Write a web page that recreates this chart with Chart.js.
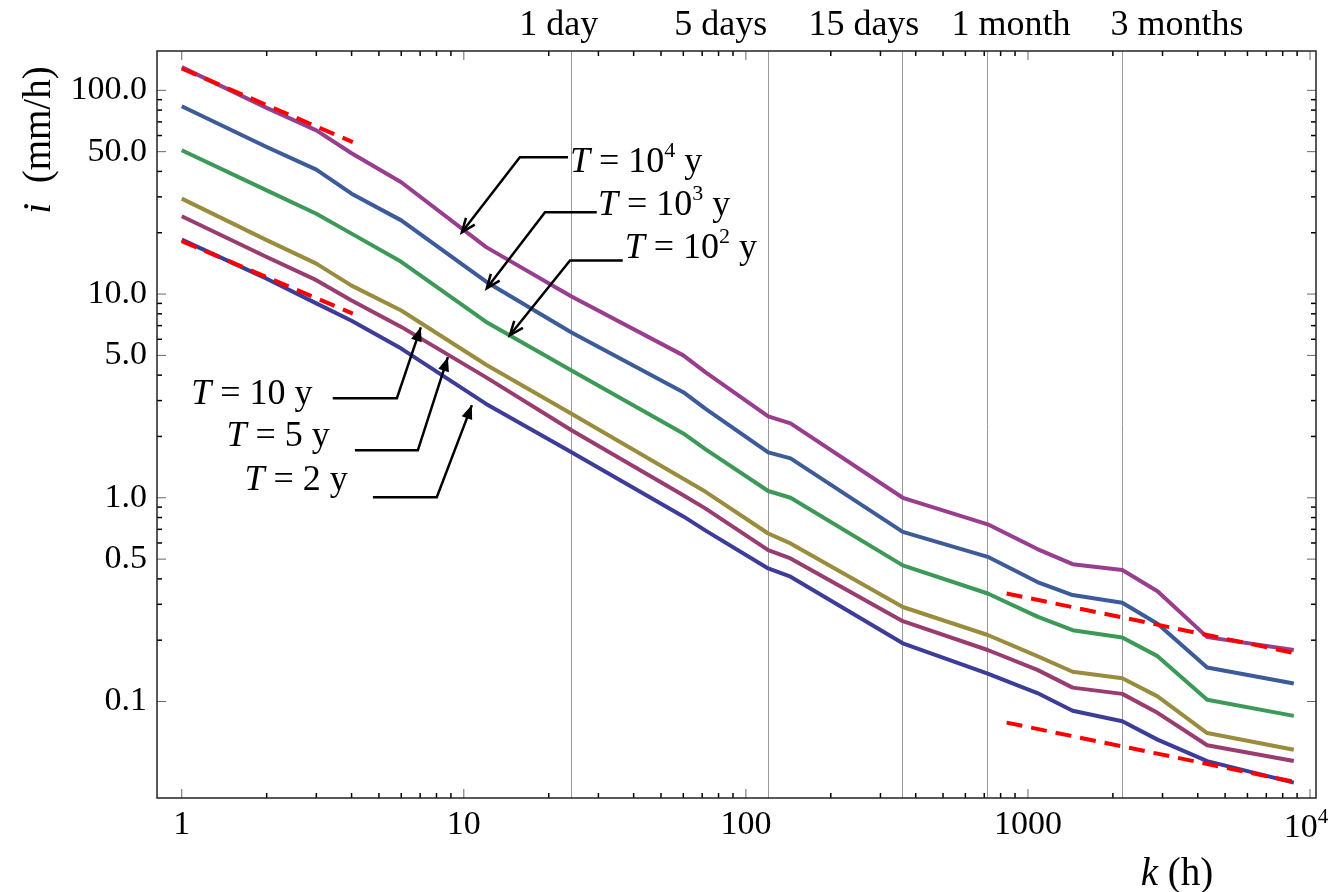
<!DOCTYPE html>
<html>
<head>
<meta charset="utf-8">
<script src="https://cdn.jsdelivr.net/npm/chart.js@4"></script>
<style>
  body { margin: 0; background: #fff; }
</style>
</head>
<body>
<canvas id="c" width="1341" height="892"></canvas>
<script>
// duration k (h)
const hours = [1, 2, 3, 4, 6, 12, 24, 60, 72, 120, 144, 360, 720, 1080, 1440, 2160, 2880, 4320, 8760];

// intensity i (mm/h) per return period
const iT2     = [18.5, 11.9, 9.0, 7.4, 5.4, 2.89, 1.68, 0.81, 0.69, 0.45, 0.41, 0.193, 0.137, 0.110, 0.090, 0.080, 0.065, 0.051, 0.040];
const iT5     = [24.1, 15.2, 11.7, 9.3, 6.9, 3.9, 2.15, 1.03, 0.885, 0.553, 0.504, 0.248, 0.179, 0.143, 0.117, 0.109, 0.088, 0.061, 0.051];
const iT10    = [29.4, 18.4, 14.1, 11.0, 8.3, 4.5, 2.59, 1.24, 1.07, 0.668, 0.597, 0.291, 0.212, 0.167, 0.140, 0.130, 0.106, 0.070, 0.058];
const iT100   = [50.8, 32.3, 24.8, 19.8, 14.4, 7.3, 4.23, 2.07, 1.73, 1.08, 1.0, 0.466, 0.339, 0.261, 0.224, 0.206, 0.167, 0.102, 0.085];
const iT1000  = [83.5, 52.7, 40.8, 31.1, 23.0, 11.5, 6.5, 3.3, 2.73, 1.67, 1.56, 0.68, 0.513, 0.386, 0.333, 0.305, 0.241, 0.147, 0.1225];
const iT10000 = [130, 82, 63.6, 49.1, 35.4, 17.0, 9.75, 5.0, 4.13, 2.51, 2.32, 1.0, 0.741, 0.56, 0.472, 0.442, 0.348, 0.207, 0.179];

// red dashed fits (start, end)
const fitShortK = [1, 4.04];
const fitHighShort = [128, 55.7];
const fitLowShort = [18.2, 8.02];
const fitLongK = [840, 8970];
const fitHighLong = [0.339, 0.172];
const fitLowLong = [0.0788, 0.0401];

// axis ticks
const xMajor = [1, 10, 100, 1000, 10000];
const yMajor = [0.1, 0.5, 1, 5, 10, 50, 100];
const yLabels = ['0.1', '0.5', '1.0', '5.0', '10.0', '50.0', '100.0'];

// reference durations (vertical lines) and their captions
const marks = [24, 120, 360, 720, 2160];
const markLabels = ['1 day', '5 days', '15 days', '1 month', '3 months'];
const markLabelAt = [21.7, 81.5, 262, 871, 3377];

// callouts: T value, tip / elbow / end of the leader, text anchor (data coords)
const notes = [
  { base: '10', sup: '4', tip: [9.84, 20.1],  elbow: [15.8, 46.9], end: [23.4, 46.9], text: [23.8, 39.6], align: 'left',  open: true },
  { base: '10', sup: '3', tip: [12.06, 10.68], elbow: [19.4, 25.2], end: [29.6, 25.2], text: [29.9, 24.4], align: 'left',  open: true },
  { base: '10', sup: '2', tip: [14.56, 6.28], elbow: [23.8, 14.6], end: [36.6, 14.6], text: [37.2, 15.0], align: 'left',  open: true },
  { base: '10', sup: '',  tip: [7.04, 6.87],  elbow: [5.79, 3.08], end: [3.43, 3.08], text: [2.91, 2.88], align: 'right', open: false },
  { base: '5',  sup: '',  tip: [8.78, 4.90],  elbow: [6.87, 1.71], end: [4.11, 1.71], text: [3.35, 1.79], align: 'right', open: false },
  { base: '2',  sup: '',  tip: [10.68, 2.85], elbow: [8.02, 1.007], end: [4.76, 1.007], text: [3.88, 1.09], align: 'right', open: false }
];

const FONT = "'Liberation Serif', 'Times New Roman', serif";
const pts = (ys) => hours.map((k, i) => ({ x: k, y: ys[i] }));
const seg = (xs, ys) => xs.map((k, i) => ({ x: k, y: ys[i] }));

function series(ys, color) {
  return { data: pts(ys), borderColor: color, borderWidth: 4, pointRadius: 0, tension: 0, order: 1, borderJoinStyle: 'round' };
}
function fit(xs, ys) {
  return { data: seg(xs, ys), borderColor: '#ff0000', borderWidth: 4, borderDash: [16, 9], pointRadius: 0, order: 0 };
}

// rich text: array of [text, italic, sup]
function drawRich(ctx, parts, x, y, size, align) {
  const fontOf = (p) => (p[1] ? 'italic ' : '') + Math.round(p[2] ? size * 0.62 : size) + 'px ' + FONT;
  let w = 0;
  parts.forEach(p => { ctx.font = fontOf(p); w += ctx.measureText(p[0]).width; });
  let cx = align === 'right' ? x - w : align === 'center' ? x - w / 2 : x;
  ctx.textAlign = 'left';
  ctx.textBaseline = 'alphabetic';
  parts.forEach(p => {
    ctx.font = fontOf(p);
    ctx.fillText(p[0], cx, p[2] ? y - size * 0.42 : y);
    cx += ctx.measureText(p[0]).width;
  });
}

const decor = {
  id: 'decor',
  afterDatasetsDraw(chart) {
    const ctx = chart.ctx;
    const a = chart.chartArea;
    const xs = chart.scales.x, ys = chart.scales.y;
    ctx.save();

    // inward tick marks on all four sides
    const xMinor = [];
    [1, 10, 100, 1000].forEach(d => { for (let m = 2; m <= 9; m++) xMinor.push(m * d); });
    const yMinor = [];
    [0.1, 1, 10].forEach(d => { for (let m = 2; m <= 9; m++) if (m !== 5) yMinor.push(m * d); });
    const tick = (x1, y1, x2, y2, major) => {
      ctx.strokeStyle = major ? '#666' : '#000';
      ctx.lineWidth = major ? 1 : 1.5;
      ctx.beginPath(); ctx.moveTo(x1, y1); ctx.lineTo(x2, y2); ctx.stroke();
    };
    xMajor.forEach(v => { const p = xs.getPixelForValue(v); tick(p, a.bottom, p, a.bottom - 9, true); tick(p, a.top, p, a.top + 9, true); });
    xMinor.forEach(v => { const p = xs.getPixelForValue(v); tick(p, a.bottom, p, a.bottom - 5, false); tick(p, a.top, p, a.top + 5, false); });
    yMajor.forEach(v => { const p = ys.getPixelForValue(v); tick(a.left, p, a.left + 9, p, true); tick(a.right, p, a.right - 9, p, true); });
    yMinor.forEach(v => { const p = ys.getPixelForValue(v); tick(a.left, p, a.left + 5, p, false); tick(a.right, p, a.right - 5, p, false); });

    // frame
    ctx.strokeStyle = '#222';
    ctx.lineWidth = 1.5;
    ctx.strokeRect(a.left, a.top, a.right - a.left, a.bottom - a.top);

    ctx.fillStyle = '#000';
    // captions of the reference durations
    markLabels.forEach((t, i) => {
      drawRich(ctx, [[t, false, false]], xs.getPixelForValue(markLabelAt[i]), 35, 36, 'center');
    });

    // 10^4 tick label
    drawRich(ctx, [['10', false, false], ['4', false, true]], xs.getPixelForValue(10000) - 4, 837, 34, 'center');

    // axis titles
    drawRich(ctx, [['k', true, false], [' (h)', false, false]], 1177, 885, 39, 'center');
    ctx.save();
    ctx.translate(50, 140);
    ctx.rotate(-Math.PI / 2);
    drawRich(ctx, [['i', true, false], ['  (mm/h)', false, false]], 0, 0, 39, 'center');
    ctx.restore();

    // callouts
    notes.forEach(n => {
      const P = (d) => [xs.getPixelForValue(d[0]), ys.getPixelForValue(d[1])];
      const tip = P(n.tip), el = P(n.elbow), en = P(n.end), tx = P(n.text);
      ctx.strokeStyle = '#000';
      ctx.fillStyle = '#000';
      ctx.lineWidth = 2.5;
      ctx.beginPath();
      ctx.moveTo(en[0], en[1]); ctx.lineTo(el[0], el[1]); ctx.lineTo(tip[0], tip[1]);
      ctx.stroke();
      const ang = Math.atan2(tip[1] - el[1], tip[0] - el[0]);
      const L = 15, s = 0.38;
      const p1 = [tip[0] - L * Math.cos(ang - s), tip[1] - L * Math.sin(ang - s)];
      const p2 = [tip[0] - L * Math.cos(ang + s), tip[1] - L * Math.sin(ang + s)];
      ctx.beginPath();
      if (n.open) {
        ctx.moveTo(p1[0], p1[1]); ctx.lineTo(tip[0], tip[1]); ctx.lineTo(p2[0], p2[1]);
        ctx.stroke();
      } else {
        ctx.moveTo(p1[0], p1[1]); ctx.lineTo(tip[0], tip[1]); ctx.lineTo(p2[0], p2[1]); ctx.closePath();
        ctx.fill();
      }
      const parts = [['T', true, false], [' = ' + n.base, false, false]];
      if (n.sup) parts.push([n.sup, false, true]);
      parts.push([' y', false, false]);
      drawRich(ctx, parts, tx[0], tx[1], 36, n.align);
    });
    ctx.restore();
  }
};

new Chart(document.getElementById('c'), {
  type: 'line',
  data: {
    datasets: [
      fit(fitShortK, fitHighShort),
      fit(fitShortK, fitLowShort),
      fit(fitLongK, fitHighLong),
      fit(fitLongK, fitLowLong),
      series(iT10000, '#993d8f'),
      series(iT1000, '#3d5a99'),
      series(iT100, '#3d9957'),
      series(iT10, '#998c3d'),
      series(iT5, '#993d71'),
      series(iT2, '#3d3d99')
    ]
  },
  options: {
    responsive: false,
    devicePixelRatio: 1,
    animation: false,
    layout: { padding: { left: 0, right: 25, top: 0, bottom: 0 } },
    plugins: { legend: { display: false }, tooltip: { enabled: false } },
    scales: {
      x: {
        type: 'logarithmic', position: 'bottom', min: 0.817, max: 10500,
        afterBuildTicks: s => { s.ticks = xMajor.map(v => ({ value: v })); },
        afterFit: s => { s.height = 94; },
        grid: { display: false, drawTicks: false },
        border: { display: false },
        ticks: {
          autoSkip: false, maxRotation: 0, padding: 7, color: '#000',
          font: { family: FONT, size: 34 },
          callback: v => v === 10000 ? '' : String(v)
        }
      },
      x2: {
        type: 'logarithmic', position: 'top', min: 0.817, max: 10500,
        afterBuildTicks: s => { s.ticks = marks.map(v => ({ value: v })); },
        afterFit: s => { s.height = 51; },
        grid: { display: true, drawOnChartArea: true, drawTicks: false, color: '#999', lineWidth: 1 },
        border: { display: false },
        ticks: { display: false }
      },
      y: {
        type: 'logarithmic', position: 'left', min: 0.0336, max: 156,
        afterBuildTicks: s => { s.ticks = yMajor.map(v => ({ value: v })); },
        afterFit: s => { s.width = 157; },
        grid: { display: false, drawTicks: false },
        border: { display: false },
        ticks: {
          autoSkip: false, padding: 10, color: '#000',
          font: { family: FONT, size: 34 },
          callback: (v, i) => yLabels[i]
        }
      }
    }
  },
  plugins: [decor]
});
</script>
</body>
</html>
